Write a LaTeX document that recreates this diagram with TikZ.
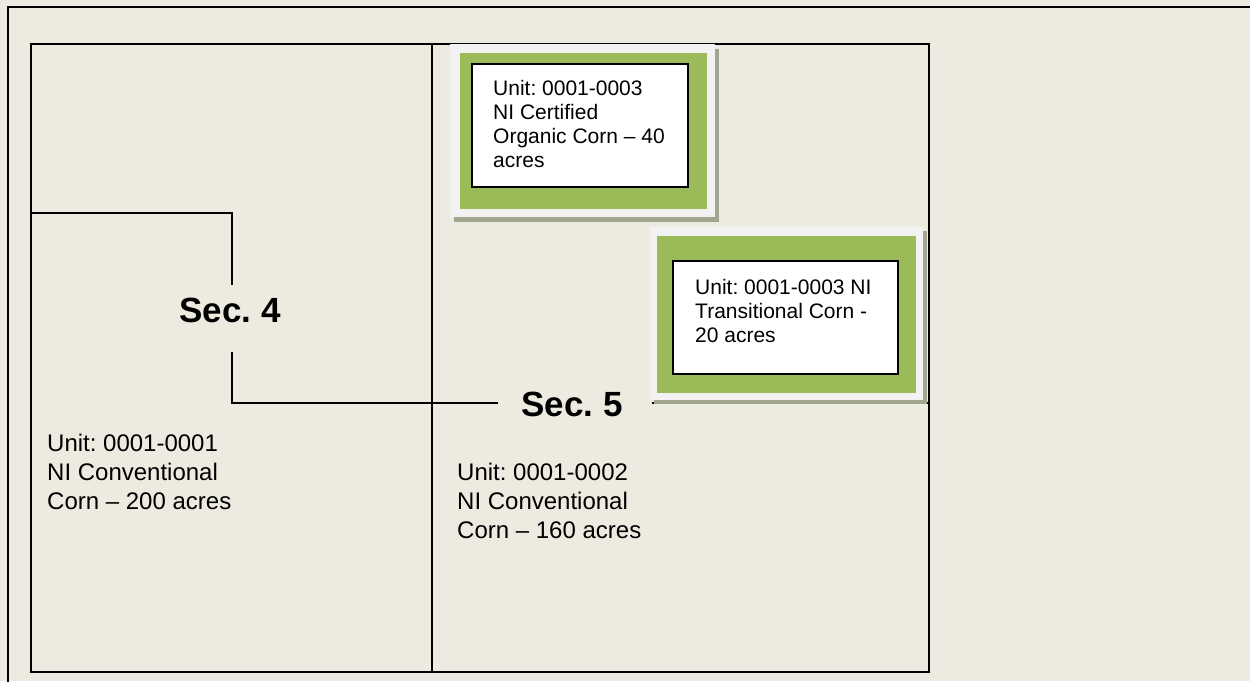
\documentclass[tikz,border=0pt]{standalone}
\usepackage{fontspec}
\setmainfont{Liberation Sans}
\frenchspacing
\definecolor{fieldbg}{HTML}{EDEBE0}
\definecolor{organicgreen}{HTML}{9BBB59}
\definecolor{framegray}{HTML}{F2F2F2}
\definecolor{shadowgray}{HTML}{A3A68E}
\begin{document}
\begin{tikzpicture}[x=1pt,y=-1pt,
    unittext/.style={anchor=north west,inner sep=0pt,align=left,font=\fontsize{24}{29}\selectfont},
    boxtext/.style={anchor=north west,inner sep=0pt,align=left,font=\fontsize{21}{24}\selectfont},
    seclabel/.style={inner sep=0pt,font=\fontsize{35}{40}\selectfont\bfseries}]
      \fill[fieldbg] (0,0) rectangle (1250,681);
      \useasboundingbox (0,0) rectangle (1250,681);
      \draw[line width=2pt] (1252,7) -| (8,683);
      \draw[line width=2pt] (31,44) rectangle (929,672);
      \draw[line width=1.5pt] (432,44) -- (432,672);
      \draw[line width=1.3pt] (31,213) -| (232,285);
      \draw[line width=1.3pt] (232,352) |- (498,403);
      \draw[line width=1.3pt] (652,403) -- (929,403);
      \node[seclabel] (sec4) at (230,310) {Sec. 4};
      \node[seclabel] (sec5) at (572,404) {Sec. 5};
      \node[unittext] (unit1) at (47,434) {Unit: 0001-0001\\NI Conventional\\Corn – 200 acres};
      \node[unittext] (unit2) at (457,463) {Unit: 0001-0002\\NI Conventional\\Corn – 160 acres};

      \fill[shadowgray] (454,49) rectangle (719,222);
      \fill[framegray] (450,44) rectangle (715,217);
      \fill[organicgreen] (460,53) rectangle (707,209);
      \draw[fill=white,line width=1.5pt] (472,64) rectangle (688,187);
      \node[boxtext] (organic) at (493,80) {Unit: 0001-0003\\NI Certified\\Organic Corn – 40\\acres};

      \fill[shadowgray] (654,231) rectangle (927,404);
      \fill[framegray] (650,227) rectangle (923,400);
      \fill[organicgreen] (657,236) rectangle (916,393);
      \draw[fill=white,line width=1.5pt] (673,261) rectangle (898,374);
      \node[boxtext] (transition) at (695,279) {Unit: 0001-0003 NI\\Transitional Corn -\\20 acres};
\end{tikzpicture}
\end{document}
